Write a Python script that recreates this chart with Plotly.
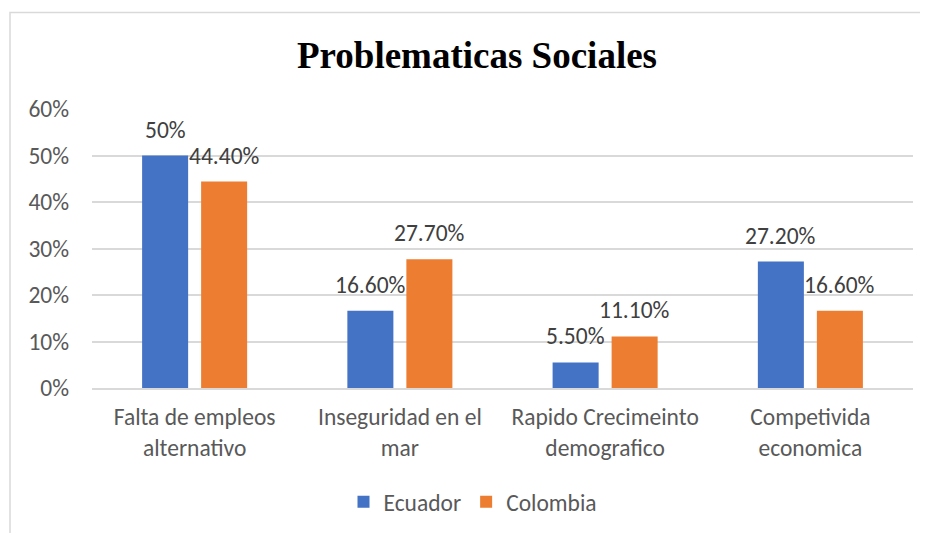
import plotly.graph_objects as go

categories = ["Falta de empleos<br>alternativo", "Inseguridad en el<br>mar",
              "Rapido Crecimeinto<br>demografico", "Competivida<br>economica"]
ecuador = [0.50, 0.166, 0.055, 0.272]
colombia = [0.444, 0.277, 0.111, 0.166]
ecuador_labels = ["50%", "16.60%", "5.50%", "27.20%"]
colombia_labels = ["44.40%", "27.70%", "11.10%", "16.60%"]
y_ticks = [0, 0.1, 0.2, 0.3, 0.4, 0.5, 0.6]
y_tick_labels = ["0%", "10%", "20%", "30%", "40%", "50%", "60%"]

FONT = "Calibri, Carlito, Lato, sans-serif"
FS = 23.5
BLUE = "#4472C4"
ORANGE = "#ED7D31"
OFF = 8  # page body margin offset

fig = go.Figure()
fig.add_trace(go.Bar(name="Ecuador", x=categories, y=ecuador, marker_color=BLUE,
                     marker_line_width=0))
fig.add_trace(go.Bar(name="Colombia", x=categories, y=colombia, marker_color=ORANGE,
                     marker_line_width=0))

annotations = []
for cat, v, t in zip(categories, ecuador, ecuador_labels):
    annotations.append(dict(x=cat, y=v, text=t, showarrow=False, xshift=-29.5,
                            yshift=26, yanchor="middle", xanchor="center",
                            font=dict(family=FONT, size=FS, color="#404040")))
for cat, v, t in zip(categories, colombia, colombia_labels):
    annotations.append(dict(x=cat, y=v, text=t, showarrow=False, xshift=29.5,
                            yshift=26, yanchor="middle", xanchor="center",
                            font=dict(family=FONT, size=FS, color="#404040")))

W, H = 928 - OFF, 533 - OFF
fig.update_layout(
    width=W, height=H,
    margin=dict(l=92 - OFF, r=15, t=109 - OFF, b=145, autoexpand=False),
    paper_bgcolor="white", plot_bgcolor="white",
    barmode="group", bargap=0.425, bargroupgap=0.22,
    title=dict(text="<b>Problematicas Sociales</b>", x=(477 - OFF) / W, xref="container",
               xanchor="center", y=1 - (55 - OFF) / H, yref="container", yanchor="middle",
               font=dict(family="Times New Roman, Liberation Serif, serif", size=37,
                         color="black")),
    font=dict(family=FONT, size=FS, color="#595959"),
    showlegend=True,
    legend=dict(orientation="h", x=(473 - 92) / 821, xanchor="center",
                y=-(502 - 388) / 279, yanchor="middle",
                font=dict(family=FONT, size=FS, color="#595959"),
                itemwidth=30, tracegroupgap=0),
    annotations=annotations,
    shapes=[dict(type="rect", xref="paper", yref="paper",
                 x0=(10 - 92) / 821, x1=(940 - 92) / 821,
                 y0=(388 - 545) / 279, y1=(388 - 12.5) / 279,
                 line=dict(color="#D9D9D9", width=1.5), layer="below")],
)
fig.update_yaxes(range=[0, 0.6], tickvals=y_ticks, ticktext=y_tick_labels,
                 showgrid=True, gridcolor="#D9D9D9", gridwidth=1.5,
                 zeroline=False, showline=False, ticks="", ticklabelstandoff=22,
                 automargin=False,
                 tickfont=dict(family=FONT, size=FS, color="#595959"))
fig.update_xaxes(showgrid=False, showline=True, linecolor="#D9D9D9", linewidth=1.5,
                 ticks="", ticklabelstandoff=7, automargin=False,
                 tickfont=dict(family=FONT, size=FS, color="#595959"))

fig.write_html("out.html")
